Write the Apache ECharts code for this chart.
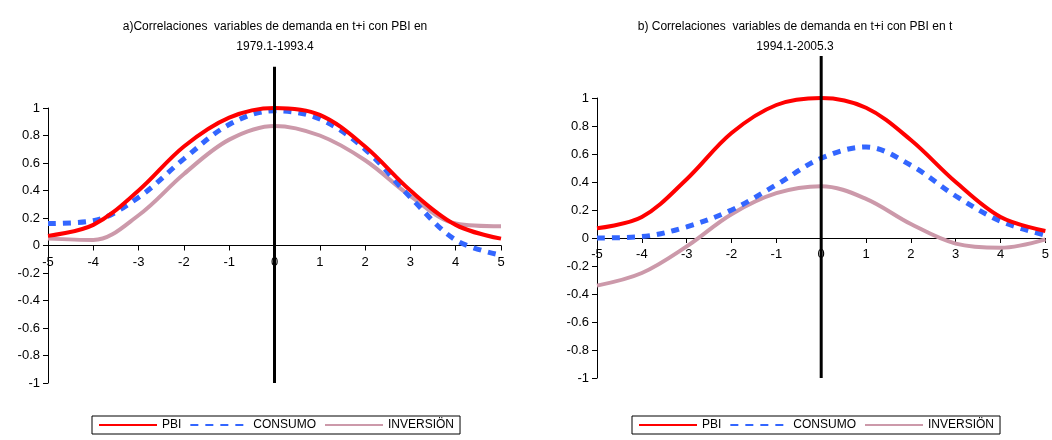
<!DOCTYPE html>
<html><head><meta charset="utf-8">
<script src="https://cdn.jsdelivr.net/npm/echarts@6/dist/echarts.min.js"></script>
<style>html,body{margin:0;background:#fff}#c{width:1052px;height:440px}</style>
</head><body><div id="c"></div>
<script>
const lags = [-5,-4,-3,-2,-1,0,1,2,3,4,5];
const pbiA = [0.07,0.15,0.40,0.72,0.93,1.0,0.95,0.72,0.40,0.15,0.05];
const conA = [0.16,0.18,0.35,0.63,0.88,0.98,0.92,0.70,0.35,0.04,-0.07];
const invA = [0.05,0.04,0.22,0.52,0.77,0.87,0.80,0.62,0.36,0.16,0.14];
const pbiB = [0.07,0.15,0.42,0.75,0.95,1.0,0.93,0.70,0.40,0.15,0.05];
const conB = [0.0,0.01,0.08,0.20,0.38,0.57,0.65,0.52,0.30,0.12,0.02];
const invB = [-0.34,-0.25,-0.06,0.17,0.32,0.37,0.28,0.10,-0.04,-0.07,-0.01];
const titleA = ['a)Correlaciones  variables de demanda en t+i con PBI en','1979.1-1993.4'];
const titleB = ['b) Correlaciones  variables de demanda en t+i con PBI en t','1994.1-2005.3'];
const names = ['PBI','CONSUMO','INVERSIÖN'];
const zeroLine = [[0,-1],[0,1.3]];

const font = 'Liberation Sans, Arial, sans-serif';
const pair = (ys)=>lags.map((x,i)=>[x,ys[i]]);
const styles = [
  {color:'#ff0000',width:4,type:'solid'},
  {color:'#3366ff',width:5,type:[8,7]},
  {color:'#cc99aa',width:4,type:'solid'}
];
function mk(idx, arrs){
  const s = arrs.map((a,k)=>({
    name:names[k], type:'line', xAxisIndex:idx, yAxisIndex:idx, data:pair(a),
    smooth:0.35, symbol:'none', lineStyle:styles[k], itemStyle:{color:styles[k].color}, z:5-k
  }));
  s.push({type:'line', xAxisIndex:idx, yAxisIndex:idx, data:zeroLine, clip:false, symbol:'none',
    lineStyle:{color:'#000',width:3}, z:10, silent:true});
  return s;
}
const grids = [{left:48,width:453,top:108,height:275},{left:597,width:453,top:98,height:280}];
const chart = echarts.init(document.getElementById('c'));
const xA = i=>({type:'value',gridIndex:i,min:-5,max:5,interval:1,position:'bottom',offset:-grids[i].height/2,
  axisLine:{onZero:false,lineStyle:{color:'#000'}},axisTick:{inside:false,length:5,lineStyle:{color:'#000'}},
  axisLabel:{color:'#000',fontSize:13,fontFamily:font,margin:10},splitLine:{show:false}});
const yA = i=>({type:'value',gridIndex:i,min:-1,max:1,interval:0.2,
  axisLine:{show:true,onZero:false,lineStyle:{color:'#000'}},axisTick:{show:true,length:5,lineStyle:{color:'#000'}},
  axisLabel:{color:'#000',fontSize:13,fontFamily:font,formatter:v=>String(Math.round(v*10)/10)},splitLine:{show:false}});
const leg = (left,top)=>({left:left,top:top,width:386,data:names,orient:'horizontal',itemWidth:58,itemHeight:14,itemGap:8,
  itemStyle:{opacity:0},
  borderColor:'#000',borderWidth:1,borderRadius:0,padding:[3,6],textStyle:{fontSize:12,fontFamily:font,color:'#000'}});
chart.setOption({
  animation:false,
  title:[
    {text:titleA.join('\n'),left:270,top:12,textAlign:'center',textStyle:{fontSize:12,fontWeight:'normal',fontFamily:font,lineHeight:20,color:'#000'}},
    {text:titleB.join('\n'),left:790,top:12,textAlign:'center',textStyle:{fontSize:12,fontWeight:'normal',fontFamily:font,lineHeight:20,color:'#000'}}
  ],
  legend:[leg(92,416),leg(632,416)],
  grid:grids,
  xAxis:[xA(0),xA(1)],
  yAxis:[yA(0),yA(1)],
  series:[...mk(0,[pbiA,conA,invA]),...mk(1,[pbiB,conB,invB])]
});
</script></body></html>
